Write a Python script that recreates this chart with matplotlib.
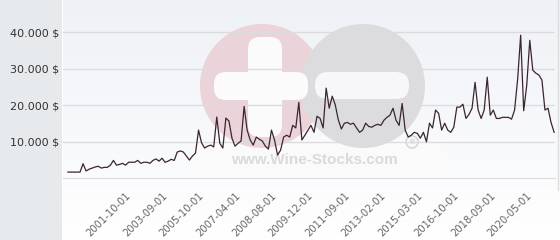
import numpy as np
import matplotlib
matplotlib.use('Agg')
import matplotlib.pyplot as plt
from matplotlib.patches import Circle, FancyBboxPatch, Rectangle

# price per auction record (in $)
prices = [1700, 1700, 1700, 1700, 1700, 4000, 2000, 2500, 2800, 3100,
          3300, 2800, 3000, 3000, 3600, 4900, 3600, 3800, 4100, 3600,
          4400, 4400, 4400, 4900, 4100, 4400, 4400, 4100, 4900, 5300,
          4700, 5500, 4400, 4700, 5200, 4900, 7200, 7500, 7200, 6100,
          5000, 6100, 6900, 13200, 9700, 8300, 8800, 9100, 8600, 16800,
          9600, 8300, 16500, 15700, 11000, 8800, 9600, 10200, 19700, 13200,
          10500, 9100, 11300, 10700, 10200, 8800, 8000, 13200, 10500, 6400,
          7700, 11300, 11800, 11300, 14500, 13800, 20800, 10500, 11800, 13200,
          14500, 12600, 17000, 16400, 13800, 24700, 19200, 22500, 20100, 16000,
          13500, 15100, 15300, 14800, 15100, 13800, 12600, 13200, 15100, 14200,
          14000, 14500, 14800, 14500, 15900, 16700, 17300, 19200, 15900, 14500,
          20500, 13200, 11300, 11800, 12600, 12300, 11000, 12600, 10000, 15100,
          13800, 18700, 17800, 13200, 15100, 13200, 12600, 14000, 19500, 19500,
          20300, 16400, 17500, 19200, 26300, 18700, 16400, 18700, 27700, 17300,
          18700, 16400, 16400, 16700, 16700, 16700, 16200, 18700, 27100, 39200,
          18500, 25500, 37800, 29600, 28800, 28300, 26900, 18700, 19200, 15300,
          12600]

tick_labels = ['2001-10-01', '2003-09-01', '2005-10-01', '2007-04-01',
               '2008-08-01', '2009-12-01', '2011-09-01', '2013-02-01',
               '2015-03-01', '2016-10-01', '2018-09-01', '2020-05-01']
first_tick, tick_step = 19, 12

y_ticks = [10000, 20000, 30000, 40000]
y_tick_labels = ['10.000 $', '20.000 $', '30.000 $', '40.000 $']

W, H = 560, 240
fig = plt.figure(figsize=(W / 100, H / 100), dpi=100)
fig.patch.set_facecolor('white')

# background layer in pixel coordinates (panel, gradient, watermark)
bg = fig.add_axes([0, 0, 1, 1], zorder=0)
bg.set_xlim(0, W)
bg.set_ylim(H, 0)
bg.axis('off')

bg.add_patch(Rectangle((0, 0), 62, H, color='#e6eaed', lw=0))
grad = np.linspace(0, 1, 100)[:, None]
top = np.array([0.935, 0.945, 0.965])
bot = np.array([1.0, 1.0, 1.0])
img = top[None, None, :] * (1 - grad[:, :, None]) + bot[None, None, :] * grad[:, :, None]
bg.imshow(img, extent=(63, W, 240, 0), aspect='auto', zorder=0)

bg.add_patch(Rectangle((195, 140), 250, 36, color='#fafafb', lw=0, zorder=1))
bg.add_patch(Circle((262, 86), 62, color='#ebd3da', lw=0, zorder=2))
bg.add_patch(Circle((363, 86), 62, color='#dcdcde', lw=0, zorder=3))
bg.add_patch(FancyBboxPatch((214, 72), 94, 28, boxstyle='round,pad=0,rounding_size=12',
                            color='#fbfbfc', lw=0, zorder=4))
bg.add_patch(FancyBboxPatch((248, 37), 34, 100, boxstyle='round,pad=0,rounding_size=12',
                            color='#fbfbfc', lw=0, zorder=4))
bg.add_patch(FancyBboxPatch((315, 72), 94, 27, boxstyle='round,pad=0,rounding_size=13',
                            color='#f7f7f9', lw=0, zorder=4))
bg.add_patch(Circle((412, 142), 6, fill=False, ec='#d8d8d8', lw=1.2, zorder=4))
bg.text(412, 142.5, 'R', ha='center', va='center', fontsize=5, color='#d8d8d8',
        fontweight='bold', zorder=5)
bg.text(314, 160, 'www.Wine-Stocks.com', ha='center', va='center', fontsize=11,
        fontweight='bold', family='Liberation Sans', color='#dadada', zorder=5)
bg.plot([558, 558], [0, 190], color='#dddddd', lw=1, zorder=5)

# main chart
ax = fig.add_axes([63 / W, 1 - 178.3 / H, (555 - 63) / W, 178.3 / H], zorder=1)
ax.patch.set_alpha(0)
x = np.arange(len(prices))
ax.plot(x, prices, color='#3b2530', lw=0.9, zorder=3)

ax.set_xlim(-1.6, 160.3)
ax.set_ylim(0, 48850)
ax.set_yticks(y_ticks)
ax.set_yticklabels(y_tick_labels, fontsize=8, color='#333333')
tick_pos = [first_tick + i * tick_step for i in range(len(tick_labels))]
ax.set_xticks(tick_pos)
ax.set_xticklabels(tick_labels, fontsize=7.2, color='#666666', rotation=45,
                   ha='right', rotation_mode='anchor')
ax.tick_params(axis='both', length=0)
ax.tick_params(axis='y', pad=3)
ax.tick_params(axis='x', pad=9)
for yv in y_ticks:
    ax.axhline(yv, color='#dcdcdc', lw=1, zorder=1)
for s in ['top', 'right', 'left']:
    ax.spines[s].set_visible(False)
ax.spines['bottom'].set_color('#dcdcdc')

fig.savefig('out.png', dpi=100, facecolor=fig.get_facecolor())
